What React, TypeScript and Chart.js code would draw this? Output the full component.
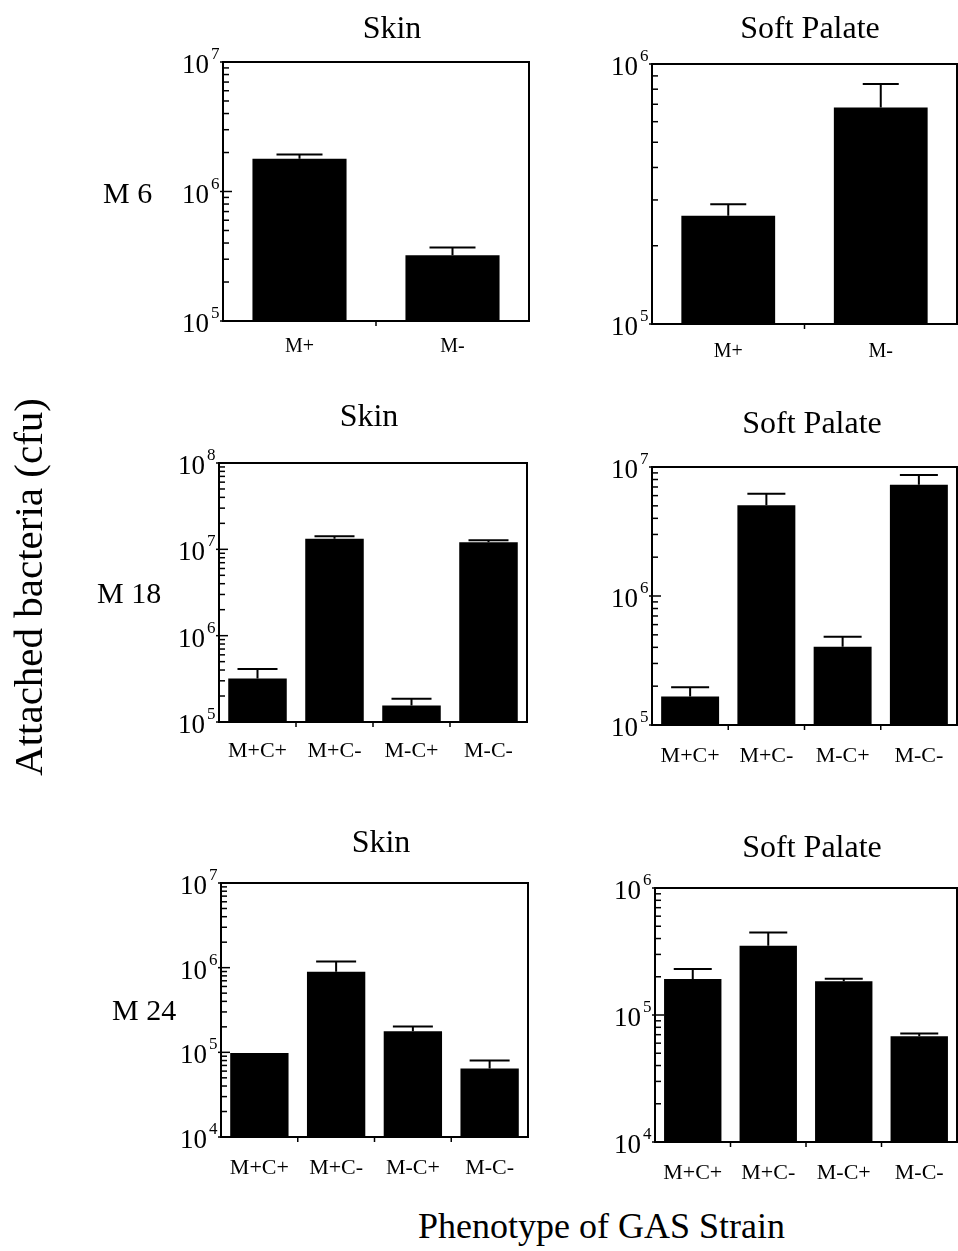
import React, { useEffect, useRef } from "react";
import { Chart, registerables } from "chart.js";

Chart.register(...registerables);

// ---------- data ----------
const CATS_TWO = ["M+", "M-"];
const CATS_FOUR = ["M+C+", "M+C-", "M-C+", "M-C-"];

const M6_SKIN = [1.79e6, 3.22e5];
const M6_SKIN_ERR = [1.93e6, 3.7e5];
const M6_SKIN_EXP = [5, 6, 7];

const M6_PALATE = [2.61e5, 6.8e5];
const M6_PALATE_ERR = [2.89e5, 8.37e5];
const M6_PALATE_EXP = [5, 6];

const M18_SKIN = [3.2e5, 1.33e7, 1.55e5, 1.21e7];
const M18_SKIN_ERR = [4.1e5, 1.42e7, 1.86e5, 1.27e7];
const M18_SKIN_EXP = [5, 6, 7, 8];

const M18_PALATE = [1.66e5, 5.05e6, 4.05e5, 7.3e6];
const M18_PALATE_ERR = [1.96e5, 6.2e6, 4.84e5, 8.67e6];
const M18_PALATE_EXP = [5, 6, 7];

const M24_SKIN = [9.8e4, 8.97e5, 1.77e5, 6.46e4];
const M24_SKIN_ERR = [null, 1.18e6, 2.02e5, 8.0e4];
const M24_SKIN_EXP = [4, 5, 6, 7];

const M24_PALATE = [1.92e5, 3.51e5, 1.84e5, 6.79e4];
const M24_PALATE_ERR = [2.3e5, 4.47e5, 1.93e5, 7.16e4];
const M24_PALATE_EXP = [4, 5, 6];

const Y_LABEL = "Attached bacteria (cfu)";
const X_LABEL = "Phenotype of GAS Strain";

// ---------- layout ----------
const FONT = '"Liberation Serif", "Times New Roman", serif';

type Panel = {
  title: string;
  titleX: number;
  titleY: number;
  row?: string;
  rowX?: number;
  rowY?: number;
  yLabel?: boolean;
  cats: string[];
  values: number[];
  err: (number | null)[];
  exps: number[];
  canvas: [number, number, number, number];
  box: [number, number, number, number];
  barPct: number;
  cap: number;
  xFont: number;
  xOff: number;
};

const PANELS: Panel[] = [
  {
    title: "Skin", titleX: 392, titleY: 38, row: "M 6", rowX: 103, rowY: 203,
    cats: CATS_TWO, values: M6_SKIN, err: M6_SKIN_ERR, exps: M6_SKIN_EXP,
    canvas: [0, 0, 560, 380], box: [223, 62, 529, 321], barPct: 0.615, cap: 46, xFont: 20, xOff: 31,
  },
  {
    title: "Soft Palate", titleX: 810, titleY: 38,
    cats: CATS_TWO, values: M6_PALATE, err: M6_PALATE_ERR, exps: M6_PALATE_EXP,
    canvas: [560, 0, 400, 380], box: [652, 64, 957, 324], barPct: 0.615, cap: 36, xFont: 20, xOff: 33,
  },
  {
    title: "Skin", titleX: 369, titleY: 426, row: "M 18", rowX: 97, rowY: 603, yLabel: true,
    cats: CATS_FOUR, values: M18_SKIN, err: M18_SKIN_ERR, exps: M18_SKIN_EXP,
    canvas: [0, 380, 560, 420], box: [219, 463, 527, 722], barPct: 0.76, cap: 40, xFont: 22, xOff: 35,
  },
  {
    title: "Soft Palate", titleX: 812, titleY: 433,
    cats: CATS_FOUR, values: M18_PALATE, err: M18_PALATE_ERR, exps: M18_PALATE_EXP,
    canvas: [560, 380, 400, 420], box: [652, 467, 957, 725], barPct: 0.76, cap: 38, xFont: 22, xOff: 37,
  },
  {
    title: "Skin", titleX: 381, titleY: 852, row: "M 24", rowX: 112, rowY: 1020,
    cats: CATS_FOUR, values: M24_SKIN, err: M24_SKIN_ERR, exps: M24_SKIN_EXP,
    canvas: [0, 800, 560, 400], box: [221, 883, 528, 1137], barPct: 0.76, cap: 40, xFont: 22, xOff: 37,
  },
  {
    title: "Soft Palate", titleX: 812, titleY: 857,
    cats: CATS_FOUR, values: M24_PALATE, err: M24_PALATE_ERR, exps: M24_PALATE_EXP,
    canvas: [560, 800, 400, 400], box: [655, 888, 957, 1142], barPct: 0.76, cap: 38, xFont: 22, xOff: 37,
  },
];

function decorPlugin(p: Panel) {
  return {
    id: "decor",
    afterDatasetsDraw(chart: any) {
      const { ctx, chartArea: a, scales } = chart;
      const y = scales.y;
      const meta = chart.getDatasetMeta(0);
      const [cx, cy] = p.canvas;
      ctx.save();
      ctx.strokeStyle = "#000";
      ctx.fillStyle = "#000";

      // error bars (upper only)
      ctx.lineWidth = 2;
      meta.data.forEach((bar: any, i: number) => {
        const e = p.err[i];
        if (e == null) return;
        const yt = y.getPixelForValue(e);
        const yb = y.getPixelForValue(p.values[i]);
        ctx.beginPath();
        ctx.moveTo(bar.x, yb);
        ctx.lineTo(bar.x, yt);
        ctx.moveTo(bar.x - p.cap / 2, yt);
        ctx.lineTo(bar.x + p.cap / 2, yt);
        ctx.stroke();
      });

      // frame
      ctx.lineWidth = 2;
      ctx.strokeRect(a.left, a.top, a.right - a.left, a.bottom - a.top);

      // y ticks (inward, log minor)
      ctx.lineWidth = 1.5;
      const e0 = p.exps[0];
      const e1 = p.exps[p.exps.length - 1];
      for (let k = e0; k <= e1; k++) {
        for (let m = 1; m <= 9; m++) {
          if (k === e1 && m > 1) break;
          const py = y.getPixelForValue(m * Math.pow(10, k));
          const len = m === 1 ? 9 : 6;
          ctx.beginPath();
          ctx.moveTo(a.left - (m === 1 ? 3 : 0), py);
          ctx.lineTo(a.left + len, py);
          ctx.stroke();
        }
      }

      // x ticks at category boundaries (outward)
      for (let i = 1; i < meta.data.length; i++) {
        const bx = (meta.data[i - 1].x + meta.data[i].x) / 2;
        ctx.beginPath();
        ctx.moveTo(bx, a.bottom);
        ctx.lineTo(bx, a.bottom + 5);
        ctx.stroke();
      }

      // y tick labels 10^k
      p.exps.forEach((k) => {
        const py = y.getPixelForValue(Math.pow(10, k));
        ctx.font = `27px ${FONT}`;
        ctx.textAlign = "right";
        ctx.textBaseline = "alphabetic";
        ctx.fillText("10", a.left - 14, py + 11);
        ctx.font = `17px ${FONT}`;
        ctx.textAlign = "left";
        ctx.fillText(String(k), a.left - 12, py - 3);
      });

      // x tick labels
      ctx.font = `${p.xFont}px ${FONT}`;
      ctx.textAlign = "center";
      ctx.textBaseline = "alphabetic";
      meta.data.forEach((bar: any, i: number) => {
        ctx.fillText(p.cats[i], bar.x, a.bottom + p.xOff);
      });

      // panel title
      ctx.font = `32px ${FONT}`;
      ctx.fillText(p.title, p.titleX - cx, p.titleY - cy);

      // row label
      if (p.row) {
        ctx.font = `30px ${FONT}`;
        ctx.textAlign = "left";
        ctx.fillText(p.row, (p.rowX as number) - cx, (p.rowY as number) - cy);
      }

      // shared y-axis label
      if (p.yLabel) {
        ctx.save();
        ctx.translate(42 - cx, 587 - cy);
        ctx.rotate(-Math.PI / 2);
        ctx.font = `41px ${FONT}`;
        ctx.textAlign = "center";
        ctx.fillText(Y_LABEL, 0, 0);
        ctx.restore();
      }
      ctx.restore();
    },
  };
}

function PanelChart({ p }: { p: Panel }) {
  const ref = useRef<HTMLCanvasElement | null>(null);
  useEffect(() => {
    if (!ref.current) return;
    const [cx, cy, cw, ch] = p.canvas;
    const [l, t, r, b] = p.box;
    const chart = new Chart(ref.current, {
      type: "bar",
      data: {
        labels: p.cats,
        datasets: [
          {
            data: p.values,
            backgroundColor: "#000",
            borderWidth: 0,
            barPercentage: p.barPct,
            categoryPercentage: 1,
          },
        ],
      },
      options: {
        animation: false,
        responsive: false,
        maintainAspectRatio: false,
        devicePixelRatio: 1,
        layout: {
          padding: { left: l - cx, top: t - cy, right: cx + cw - r, bottom: cy + ch - b },
        },
        scales: {
          x: { display: false, offset: true },
          y: {
            type: "logarithmic",
            display: false,
            min: Math.pow(10, p.exps[0]),
            max: Math.pow(10, p.exps[p.exps.length - 1]),
          },
        },
        plugins: { legend: { display: false }, tooltip: { enabled: false }, title: { display: false } },
      },
      plugins: [decorPlugin(p)],
    } as any);
    return () => chart.destroy();
  }, [p]);
  const [cx, cy, cw, ch] = p.canvas;
  return (
    <canvas
      ref={ref}
      width={cw}
      height={ch}
      style={{ position: "absolute", left: cx, top: cy, width: cw, height: ch }}
    />
  );
}

export default function App() {
  return (
    <div
      style={{
        position: "absolute",
        left: 0,
        top: 0,
        width: 958,
        height: 1251,
        overflow: "hidden",
        background: "#fff",
      }}
    >
      {PANELS.map((p, i) => (
        <PanelChart key={i} p={p} />
      ))}
      <div
        style={{
          position: "absolute",
          left: 418,
          top: 1238 - 0.8375 * 36,
          fontFamily: FONT,
          fontSize: 36,
          lineHeight: "36px",
          whiteSpace: "nowrap",
          color: "#000",
        }}
      >
        {X_LABEL}
      </div>
    </div>
  );
}
